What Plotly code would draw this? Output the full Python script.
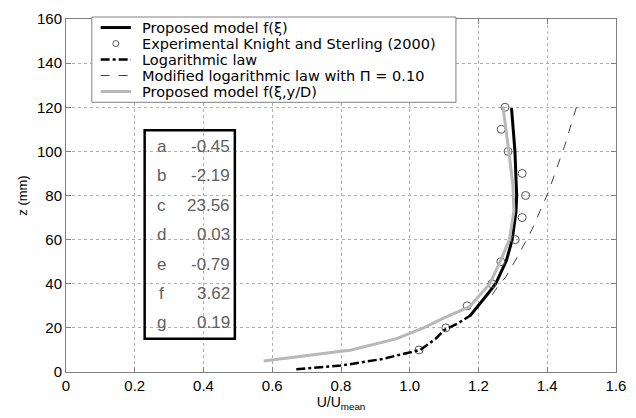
import plotly.graph_objects as go

# ---- data ----
exp_u = [1.027, 1.105, 1.167, 1.239, 1.265, 1.307, 1.327, 1.337, 1.327, 1.286, 1.266, 1.277]
exp_z = [10, 20, 30, 40, 50, 60, 70, 80, 90, 100, 110, 120]

prop_u = [1.174, 1.198, 1.225, 1.250, 1.281, 1.298, 1.309, 1.311, 1.306, 1.301, 1.296]
prop_z = [25.2, 29.6, 35, 40, 50.4, 60, 72.6, 80, 100, 110, 119.6]

log_u = [0.67, 0.72, 0.80, 0.92, 1.03, 1.075, 1.10, 1.14, 1.175]
log_z = [1.2, 1.8, 2.9, 5.9, 10, 15, 19, 22, 25.5]

mod_u = [1.24, 1.255, 1.279, 1.312, 1.355, 1.403, 1.450, 1.489]
mod_z = [35, 38.5, 43, 51.8, 64.4, 81.5, 102.2, 122.2]

gray_u = [0.575, 0.83, 0.96, 1.04, 1.10, 1.174, 1.233, 1.264, 1.290, 1.303, 1.300, 1.289, 1.280, 1.271]
gray_z = [5, 10, 15, 20, 24.5, 29.6, 40, 50.4, 60, 73, 85, 100, 110, 120.4]

param_names = ["a", "b", "c", "d", "e", "f", "g"]
param_values = ["-0.45", "-2.19", "23.56", "0.03", "-0.79", "3.62", "0.19"]

legend_labels = ["Proposed model f(ξ)", "Experimental Knight and Sterling (2000)", "Logarithmic law",
                 "Modified logarithmic law with Π = 0.10", "Proposed model f(ξ,y/D)"]

x_ticks = [0, 0.2, 0.4, 0.6, 0.8, 1.0, 1.2, 1.4, 1.6]
x_ticktext = ["0", "0.2", "0.4", "0.6", "0.8", "1.0", "1.2", "1.4", "1.6"]
y_ticks = [0, 20, 40, 60, 80, 100, 120, 140, 160]

# styles
styles = [
    dict(color="black", width=3, dash="solid"),
    None,
    dict(color="black", width=2.5, dash="dashdot"),
    dict(color="#444444", width=1, dash="dash"),
    dict(color="#b8b8b8", width=3, dash="solid"),
]

fig = go.Figure()
fig.add_trace(go.Scatter(x=prop_u, y=prop_z, mode="lines", name=legend_labels[0], line=styles[0]))
fig.add_trace(go.Scatter(x=exp_u, y=exp_z, mode="markers", name=legend_labels[1],
                         marker=dict(symbol="circle-open", size=8, color="#555555", line=dict(width=1))))
fig.add_trace(go.Scatter(x=log_u, y=log_z, mode="lines", name=legend_labels[2], line=styles[2]))
fig.add_trace(go.Scatter(x=mod_u, y=mod_z, mode="lines", name=legend_labels[3], line=styles[3]))
fig.add_trace(go.Scatter(x=gray_u, y=gray_z, mode="lines", name=legend_labels[4], line=styles[4]))

# ---- custom legend box (compact, like the original) ----
fig.add_shape(type="rect", xref="paper", yref="paper", x0=0.047, x1=0.709, y0=0.764, y1=1.0056,
              line=dict(color="#808080", width=1), fillcolor="white", layer="above")
row_top = 0.9758
row_step = 0.0453
for i, lab in enumerate(legend_labels):
    yy = row_top - i * row_step
    if styles[i] is not None:
        fig.add_shape(type="line", xref="paper", yref="paper", x0=0.063, x1=0.118, y0=yy, y1=yy,
                      line=styles[i], layer="above")
    else:
        fig.add_shape(type="circle", xref="paper", yref="paper", xsizemode="pixel", ysizemode="pixel",
                      xanchor=0.0907, yanchor=yy, x0=-3, x1=3, y0=-3, y1=3,
                      line=dict(color="#555555", width=1), layer="above")
    fig.add_annotation(xref="paper", yref="paper", x=0.1368, y=yy, text=lab, showarrow=False,
                       xanchor="left", yanchor="middle", borderpad=0,
                       font=dict(size=14.5, color="black", family="DejaVu Sans"))

# ---- parameter box ----
fig.add_shape(type="rect", xref="paper", yref="paper", x0=0.143, x1=0.307, y0=0.094, y1=0.685,
              line=dict(color="black", width=2.5), fillcolor="rgba(0,0,0,0)")
for i, (n, v) in enumerate(zip(param_names, param_values)):
    yy = 0.639 - i * 0.0833
    fig.add_annotation(xref="paper", yref="paper", x=0.174, y=yy, text=n, showarrow=False,
                       xanchor="center", yanchor="middle", font=dict(size=17, color="#606060"))
    fig.add_annotation(xref="paper", yref="paper", x=0.301, y=yy, text=v, showarrow=False,
                       xanchor="right", yanchor="middle", font=dict(size=17, color="#606060"))

axis_common = dict(showline=True, linecolor="#808080", linewidth=1, mirror="ticks",
                   ticks="inside", ticklen=5, tickcolor="#808080",
                   showgrid=True, gridcolor="#b0b0b0", griddash="dot", gridwidth=1,
                   zeroline=False, tickfont=dict(size=15, color="black"))

fig.update_xaxes(range=[0, 1.6], tickvals=x_ticks, ticktext=x_ticktext,
                 title=dict(text="U/U<sub>mean</sub>", font=dict(size=14, color="black"), standoff=4),
                 **axis_common)
fig.update_yaxes(range=[0, 160], tickvals=y_ticks,
                 title=dict(text="z (mm)", font=dict(size=13, color="black"), standoff=6),
                 **axis_common)

fig.update_layout(
    width=636, height=418,
    margin=dict(l=66, r=10, t=13, b=45),
    paper_bgcolor="white", plot_bgcolor="white",
    font=dict(family="Liberation Sans, Arial, sans-serif", color="black"),
    showlegend=False,
)

fig.write_html("out.html")
